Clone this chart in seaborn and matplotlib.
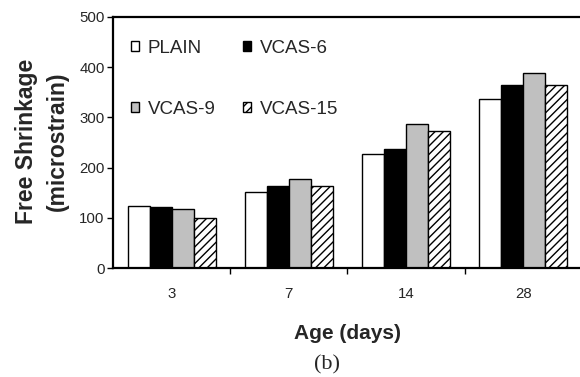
import matplotlib
matplotlib.use("Agg")
import matplotlib.pyplot as plt
import seaborn as sns
import pandas as pd

# ── data ─────────────────────────────────────────────────────────────────────
ages = ["3", "7", "14", "28"]
mixes = ["PLAIN", "VCAS-6", "VCAS-9", "VCAS-15"]
plain = [124, 151, 228, 337]
vcas6 = [121, 163, 237, 364]
vcas9 = [118, 177, 287, 388]
vcas15 = [100, 163, 273, 364]
y_ticks = [0, 100, 200, 300, 400, 500]

colors = ["white", "black", "#c0c0c0", "white"]
hatches = ["", "", "", "////"]

rows = []
for mix, vals in zip(mixes, [plain, vcas6, vcas9, vcas15]):
    for age, v in zip(ages, vals):
        rows.append({"Age": age, "Mix": mix, "Shrinkage": v})
df = pd.DataFrame(rows)

sns.set_theme(style="white")
plt.rcParams["font.family"] = ["Liberation Sans", "DejaVu Sans"]
plt.rcParams["hatch.linewidth"] = 1.0

fig = plt.figure(figsize=(5.8, 3.77), dpi=100)
ax = fig.add_axes([113 / 580, 109 / 377, 469 / 580, 251 / 377])

sns.barplot(data=df, x="Age", y="Shrinkage", hue="Mix", order=ages,
            hue_order=mixes, palette=colors, width=0.75, errorbar=None,
            edgecolor="black", linewidth=1.0, ax=ax, legend=False)

for cont, hatch in zip(ax.containers, hatches):
    for bar in cont:
        bar.set_hatch(hatch)
        bar.set_edgecolor("black")

ax.set_xlim(-0.5, 3.5)
ax.set_ylim(0, 500)
ax.set_yticks(y_ticks)

for side in ["left", "bottom", "top"]:
    ax.spines[side].set_visible(True)
    ax.spines[side].set_linewidth(1.6)
    ax.spines[side].set_color("black")
ax.spines["right"].set_visible(False)

ax.tick_params(axis="y", which="major", direction="out", length=4, width=1,
               color="black", pad=2, labelsize=10.8, left=True)
ax.set_xticks([0.5, 1.5, 2.5, 3.5], minor=True)
ax.tick_params(axis="x", which="minor", direction="out", length=4, width=1,
               color="black", bottom=True)
ax.tick_params(axis="x", which="major", length=0, pad=14, labelsize=10.8)

ax.set_xlabel("Age (days)", fontsize=15, fontweight="bold")
ax.xaxis.set_label_coords(0.499, -0.225)
ax.set_ylabel("Free Shrinkage\n(microstrain)", fontsize=16.5, fontweight="bold",
              linespacing=1.45)
ax.yaxis.set_label_coords(-0.152, 0.506)
ax.yaxis.label.set_verticalalignment("center")

# legend fills row by row in the reference: PLAIN, VCAS-6 / VCAS-9, VCAS-15
handles = [cont.patches[0] for cont in ax.containers]
order = [0, 2, 1, 3]
ax.legend([handles[i] for i in order], [mixes[i] for i in order], ncol=2,
          frameon=False, fontsize=13.5,
          loc="upper left", bbox_to_anchor=(131 / 580, 1 - 40 / 377),
          bbox_transform=fig.transFigure, borderpad=0, borderaxespad=0,
          handlelength=0.45, handleheight=0.45, handletextpad=0.45,
          labelspacing=2.35, columnspacing=1.45)

fig.text(327 / 580, 1 - 365 / 377, "(b)", ha="center", va="center",
         fontsize=16, family="Liberation Serif")

fig.savefig("out.png", dpi=100)
